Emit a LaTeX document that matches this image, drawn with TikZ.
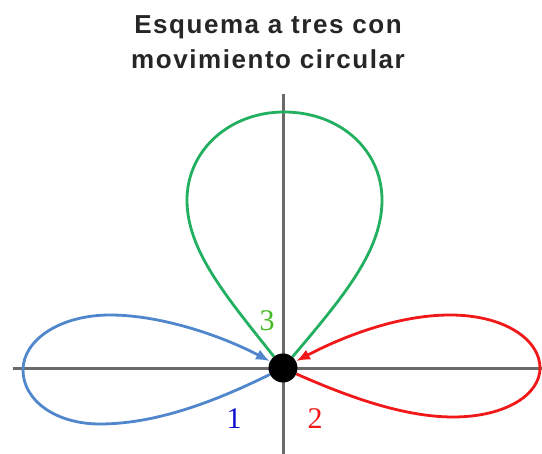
\documentclass[tikz,border=0pt]{standalone}
\usepackage{fontspec}
\setmainfont{Liberation Serif}
\newfontfamily\titlefont[LetterSpace=6]{Liberation Sans}
\usetikzlibrary{arrows.meta,backgrounds}
\definecolor{axisgray}{HTML}{6A6A6A}
\definecolor{petalblue}{HTML}{4F86CC}
\definecolor{petalred}{HTML}{F01818}
\definecolor{petalgreen}{HTML}{22B060}
\definecolor{labelgreen}{HTML}{44BB22}
\definecolor{labelblue}{HTML}{1010D0}
\begin{document}
\begin{tikzpicture}[x=1pt,y=-1pt,
  axisline/.style={draw=axisgray,line width=3pt},
  petal/.style={line width=2.8pt},
  tip/.style={-{Latex[length=14pt,width=11pt]}},
  numlabel/.style={font=\fontsize{30}{30}\selectfont,inner sep=0pt},
  titletext/.style={font=\titlefont\bfseries\fontsize{26}{35}\selectfont,align=center,text=black!85,inner sep=0pt},
  centerdot/.style={circle,fill=black,minimum size=29pt,inner sep=0pt}]
\useasboundingbox (0,0) rectangle (542,454);
\node[titletext] (title) at (268,42) {Esquema a tres con\\movimiento circular};
\node[centerdot] (c) at (283,368) {};
\coordinate (xl) at (13,369);
\coordinate (xr) at (542,369);
\coordinate (yt) at (283,94);
\coordinate (yb) at (283,454);
\begin{scope}[on background layer]
\draw[axisline] (xl) -- (xr);
\draw[axisline] (yt) -- (yb);
% blue petal
\draw[petal,draw=petalblue,tip] (c) .. controls (222,398) and (160,424) .. (100,424)
  .. controls (55,424) and (23,400) .. (23,370)
  .. controls (23,340) and (60,315) .. (110,315)
  .. controls (160,315) and (220,335) .. (c);
% red petal
\draw[petal,draw=petalred,tip] (c) .. controls (344,395) and (402,417) .. (453,417)
  .. controls (505,417) and (540,395) .. (540,368)
  .. controls (540,340) and (505,315) .. (450,315)
  .. controls (400,315) and (346,335) .. (c);
% green petal
\draw[petal,draw=petalgreen] (c) .. controls (225,295) and (187,250) .. (187,200)
  .. controls (187,150) and (230,112) .. (284,112)
  .. controls (340,112) and (382,150) .. (382,200)
  .. controls (382,250) and (345,295) .. (c);
\end{scope}
\node[numlabel,text=labelgreen] (l3) at (267,321) {3};
\node[numlabel,text=labelblue] (l1) at (234,419) {1};
\node[numlabel,text=petalred] (l2) at (315,419) {2};
\end{tikzpicture}
\end{document}
